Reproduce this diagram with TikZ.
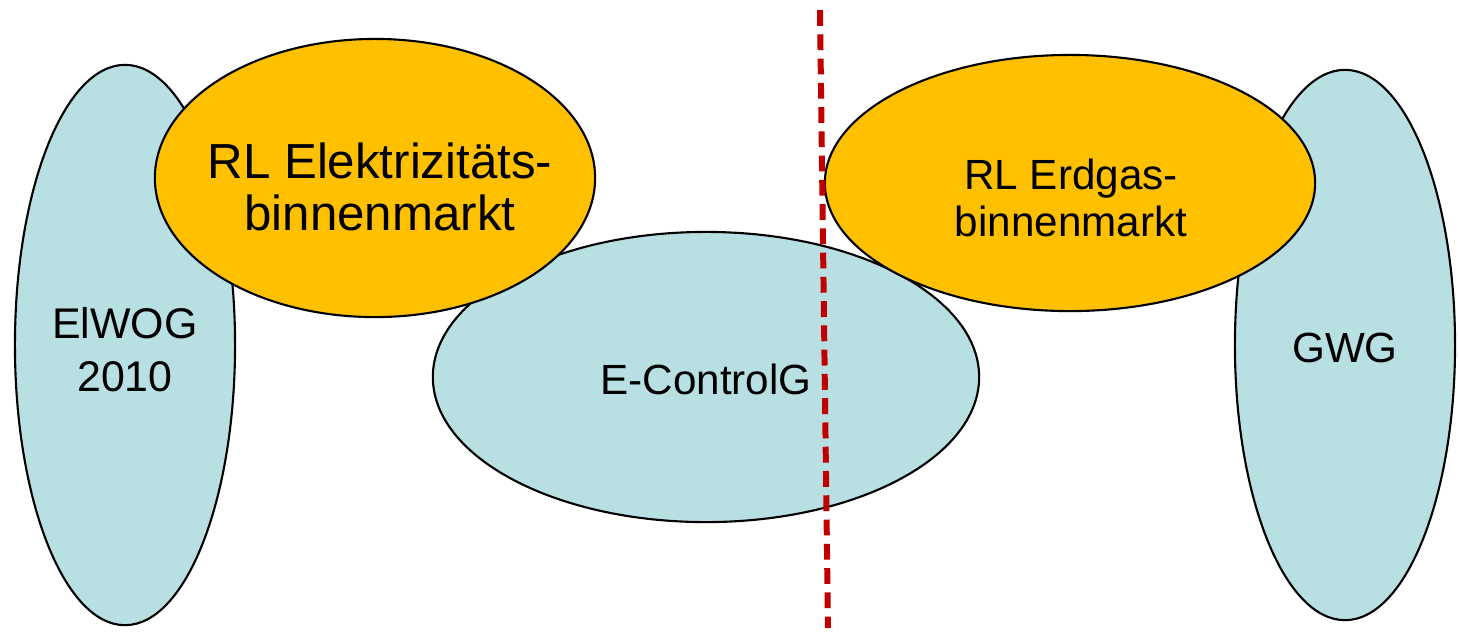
\documentclass[tikz,border=0pt]{standalone}
\usepackage{fontspec}
\setmainfont{Liberation Sans}
\usetikzlibrary{shapes.geometric}
\definecolor{lawblue}{RGB}{184,223,226}
\definecolor{rlorange}{RGB}{255,192,0}
\definecolor{cutred}{RGB}{192,0,0}
\begin{document}
\begin{tikzpicture}[x=0.01cm, y=-0.01cm,
  blob/.style={ellipse, draw, line width=0.6pt, inner sep=0pt},
  law/.style={blob, fill=lawblue},
  rl/.style={blob, fill=rlorange},
  txt/.style={inner sep=0pt, align=center}]
\useasboundingbox (0,0) rectangle (1459,632);
% laws (blue) first, directives (orange) on top
\node[law, minimum width=2.2cm, minimum height=5.6cm] (elwog) at (125, 345) {};
\node[law, minimum width=2.2cm, minimum height=5.5cm] (gwg) at (1345, 345) {};
\node[law, minimum width=5.46cm, minimum height=2.9cm] (econ) at (706, 377) {};
\node[rl, minimum width=4.4cm, minimum height=2.78cm] (rlel) at (375, 178) {};
\node[rl, minimum width=4.9cm, minimum height=2.56cm] (rlgas) at (1070, 183) {};
% texts
\node[txt, font=\fontsize{12.2}{15}\selectfont] (elwogtxt) at ([shift={(0,5)}]elwog.center) {ElWOG\\2010};
\node[txt, font=\fontsize{12}{15}\selectfont] (gwgtxt) at ([shift={(0,3)}]gwg.center) {GWG};
\node[txt, font=\fontsize{12}{15}\selectfont] (econtxt) at ([shift={(0,2)}]econ.center) {E-ControlG};
\node[txt, font=\fontsize{14}{14.8}\selectfont] (rleltxt) at ([shift={(5,9)}]rlel.center) {RL Elektrizitäts-\\binnenmarkt};
\node[txt, font=\fontsize{12}{13.3}\selectfont] (rlgastxt) at ([shift={(1,15)}]rlgas.center) {RL Erdgas-\\binnenmarkt};
% border between electricity and gas
\coordinate (cuttop) at (820, 10);
\coordinate (cutbot) at (828, 628);
\draw[cutred, line width=1.7pt, dash pattern=on 4.5pt off 2.4pt] (cuttop) -- (cutbot);
\end{tikzpicture}
\end{document}
